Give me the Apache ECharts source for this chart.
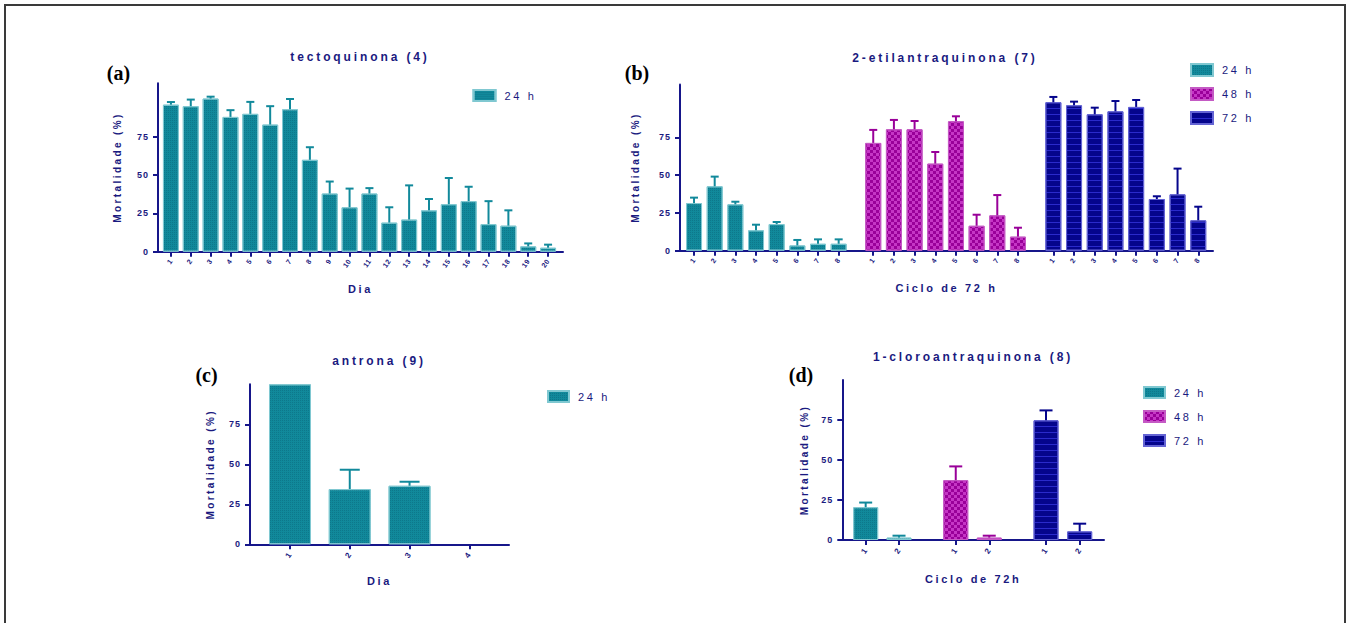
<!DOCTYPE html>
<html><head><meta charset="utf-8">
<script src="https://cdn.jsdelivr.net/npm/echarts@6/dist/echarts.min.js"></script>
<style>html,body{margin:0;padding:0;background:#fff}#c{width:1351px;height:623px}</style>
</head><body><div id="c"></div>
<script>
// ---------------- data ----------------
const yTicks = [0, 25, 50, 75];

// (a) tectoquinona (4)
const tectoDays = ['1','2','3','4','5','6','7','8','9','10','11','12','13','14','15','16','17','18','19','20'];
const tectoMean = [96, 95, 100, 88, 90, 83, 93, 60, 38, 29, 38, 19, 21, 27, 31, 33, 18, 17, 3.5, 2.6];
const tectoErr  = [1.7, 4.3, 1.2, 4.4, 7.8, 12, 6.7, 8.2, 7.8, 12.2, 3.5, 10, 22.3, 7.4, 17.1, 9.4, 15, 10, 1.9, 2];

// (b) 2-etilantraquinona (7)
const etilCycles = ['1','2','3','4','5','6','7','8'];
const etil24 = [31.5, 42.6, 30.7, 13.5, 17.6, 3.5, 4.6, 4.6];
const etil24Err = [3.6, 6.4, 1.7, 3.7, 1.4, 3.6, 2.9, 2.9];
const etil48 = [71.3, 80.3, 80.3, 57.6, 85.6, 16.5, 23.4, 9.3];
const etil48Err = [8.6, 6.2, 5.5, 7.7, 3.3, 7.3, 13.4, 5.9];
const etil72 = [98.2, 96.2, 90.2, 92.2, 95.1, 34.2, 37.3, 20.1];
const etil72Err = [3.5, 2.4, 4.4, 6.8, 4.6, 1.8, 17, 9];

// (c) antrona (9)
const antronaDays = ['1','2','3','4'];
const antronaMean = [100, 34.5, 36.6, 0];
const antronaErr  = [0, 12.1, 2.5, 0];

// (d) 1-cloroantraquinona (8)
const cloroCycles = ['1','2'];
const cloro24 = [20.5, 1.5];
const cloro24Err = [2.9, 1.2];
const cloro48 = [37.4, 1.5];
const cloro48Err = [8.6, 1.2];
const cloro72 = [74.8, 5.4];
const cloro72Err = [6.2, 4.8];

// ---------------- styles ----------------
const NAVY = '#1a1a80';
const AX = '#16168a';
const FONT = 'Liberation Sans';
const S24 = { color: '#11899b', borderColor: '#80c8d1', err: '#11899b',
  decal: { symbol: 'rect', symbolSize: 1, color: 'rgba(0,60,80,0.22)', dashArrayX: [1, 1], dashArrayY: [1, 1] } };
const S48 = { color: '#990099', borderColor: '#c45ac4', err: '#990099',
  decal: { symbol: 'rect', symbolSize: 1, color: '#c536c5', dashArrayX: [[3, 3], [0, 3, 3, 0]], dashArrayY: [3, 0] } };
const S72 = { color: '#05058c', borderColor: '#6464d4', err: '#05058c',
  decal: { symbol: 'rect', symbolSize: 1, color: '#2a2acb', dashArrayX: [1, 0], dashArrayY: [1, 5] } };

const grids = [], xAxes = [], yAxes = [], series = [];

function errRender(color, cap) {
  return function (params, api) {
    const m = api.value(1), e = api.value(2);
    if (!e) return;
    const x = api.value(0);
    const p0 = api.coord([x, m]), p1 = api.coord([x, m + e]);
    return { type: 'group', children: [
      { type: 'line', shape: { x1: p0[0], y1: p0[1], x2: p1[0], y2: p1[1] }, style: { stroke: color, lineWidth: 2 } },
      { type: 'line', shape: { x1: p1[0] - cap / 2, y1: p1[1], x2: p1[0] + cap / 2, y2: p1[1] }, style: { stroke: color, lineWidth: 2 } }
    ] };
  };
}

function addPanel(p) {
  const gi = grids.length;
  grids.push({ left: p.left, top: p.top, width: p.right - p.left, height: p.bottom - p.top });
  xAxes.push({ gridIndex: gi, type: 'value', min: 0, max: 1,
    axisLine: { show: true, lineStyle: { color: AX, width: 2 } }, axisTick: { show: false },
    axisLabel: { show: false }, splitLine: { show: false },
    name: p.xName, nameLocation: 'middle', nameGap: p.xNameGap,
    nameTextStyle: { fontSize: 11, fontWeight: 'bold', color: NAVY, fontFamily: FONT } });
  yAxes.push({ gridIndex: gi, type: 'value', min: 0, max: p.max,
    axisLine: { show: true, lineStyle: { color: AX, width: 2 } },
    axisTick: { show: true, length: 5, customValues: yTicks, lineStyle: { color: AX, width: 2 } },
    axisLabel: { customValues: yTicks, fontSize: 9, fontWeight: 'bold', color: NAVY, margin: 9, fontFamily: FONT },
    splitLine: { show: false },
    name: 'Mortalidade (%)', nameLocation: 'middle', nameRotate: 90, nameGap: p.yNameGap,
    nameTextStyle: { fontSize: 10, fontWeight: 'bold', color: NAVY, fontFamily: FONT } });
  p.groups.forEach(g => {
    const bi = grids.length;
    grids.push({ left: g.left, top: p.top, width: g.right - g.left, height: p.bottom - p.top });
    xAxes.push({ gridIndex: bi, type: 'category', data: g.cats,
      axisLine: { show: false },
      axisTick: { show: true, alignWithLabel: true, length: 5, lineStyle: { color: AX, width: 2 } },
      axisLabel: { interval: 0, rotate: 55, fontSize: p.tickFont, fontWeight: 'bold', color: NAVY, margin: p.tickMargin, fontFamily: FONT },
      splitLine: { show: false } });
    yAxes.push({ gridIndex: bi, type: 'value', min: 0, max: p.max, show: false });
    series.push({ type: 'bar', name: g.name, xAxisIndex: bi, yAxisIndex: bi,
      data: g.mean.map(v => ({ value: v, itemStyle: { borderWidth: v > 0 ? 1 : 0 } })),
      barWidth: p.barWidth, silent: true, z: 2,
      itemStyle: { color: g.st.color, borderColor: g.st.borderColor, borderWidth: 1, decal: g.st.decal } });
    series.push({ type: 'custom', name: 'erro ' + g.name, xAxisIndex: bi, yAxisIndex: bi,
      data: g.mean.map((m, i) => [i, m, g.err[i]]), encode: { x: 0, y: 1 },
      renderItem: errRender(g.st.err, p.cap), silent: true, z: 3 });
  });
}

addPanel({ left: 158, right: 563, top: 83.2, bottom: 251.7, max: 110, xName: 'Dia', xNameGap: 31.5, yNameGap: 36,
  barWidth: 16, cap: 8, tickFont: 7, tickMargin: 8,
  groups: [{ left: 161, right: 558, cats: tectoDays, name: '24 h', mean: tectoMean, err: tectoErr, st: S24 }] });

addPanel({ left: 680, right: 1213, top: 84.4, bottom: 250.7, max: 110, xName: 'Ciclo de 72 h', xNameGap: 31.5, yNameGap: 40,
  barWidth: 16, cap: 8, tickFont: 7, tickMargin: 8,
  groups: [
    { left: 683.7, right: 849, cats: etilCycles, name: '24 h', mean: etil24, err: etil24Err, st: S24 },
    { left: 862.9, right: 1028.3, cats: etilCycles, name: '48 h', mean: etil48, err: etil48Err, st: S48 },
    { left: 1043, right: 1208.6, cats: etilCycles, name: '72 h', mean: etil72, err: etil72Err, st: S72 }] });

addPanel({ left: 250, right: 509, top: 384.3, bottom: 544.3, max: 100, xName: 'Dia', xNameGap: 31.5, yNameGap: 34.5,
  barWidth: 42, cap: 20, tickFont: 8, tickMargin: 9,
  groups: [{ left: 260.1, right: 499.2, cats: antronaDays, name: '24 h', mean: antronaMean, err: antronaErr, st: S24 }] });

addPanel({ left: 842.3, right: 1104, top: 380, bottom: 540, max: 100, xName: 'Ciclo de 72h', xNameGap: 33, yNameGap: 33,
  barWidth: 25, cap: 13, tickFont: 8, tickMargin: 9,
  groups: [
    { left: 849, right: 915.7, cats: cloroCycles, name: '24 h', mean: cloro24, err: cloro24Err, st: S24 },
    { left: 939, right: 1006, cats: cloroCycles, name: '48 h', mean: cloro48, err: cloro48Err, st: S48 },
    { left: 1029.2, right: 1096.5, cats: cloroCycles, name: '72 h', mean: cloro72, err: cloro72Err, st: S72 }] });

function legend(names, left, top, w, h, gap) {
  return { data: names, left: left, top: top, padding: 0, orient: 'vertical', icon: 'rect', itemWidth: w, itemHeight: h,
    itemGap: gap, selectedMode: false,
    textStyle: { fontSize: 11, color: NAVY, fontFamily: FONT, padding: [0, 0, 0, 4] } };
}

function label(text, x, y, font, fill) {
  return { type: 'text', x: x, y: y, silent: true,
    style: { text: text, font: font, fill: fill, align: 'center', verticalAlign: 'middle', textAlign: 'center', textVerticalAlign: 'middle' } };
}
const TF = 'bold 12px "Liberation Sans"';
const PF = 'bold 20px "Liberation Serif"';

const option = {
  animation: false,
  textStyle: { fontFamily: FONT },
  grid: grids, xAxis: xAxes, yAxis: yAxes, series: series,
  legend: [
    legend(['24 h'], 472.5, 89, 22, 11, 10),
    legend(['24 h', '48 h', '72 h'], 1190, 63, 22, 12, 10),
    legend(['24 h'], 547, 390, 21, 11, 10),
    legend(['24 h', '48 h', '72 h'], 1143, 386, 21, 11, 11)
  ],
  graphic: [
    { type: 'rect', silent: true, shape: { x: 5, y: 5, width: 1340, height: 650 }, style: { fill: 'none', stroke: '#3a3a3a', lineWidth: 2 } },
    label('tectoquinona (4)', 360, 57, TF, NAVY),
    label('2-etilantraquinona (7)', 945, 57.5, TF, NAVY),
    label('antrona (9)', 379, 361, TF, NAVY),
    label('1-cloroantraquinona (8)', 973, 357, TF, NAVY),
    label('(a)', 118.5, 73, PF, '#000'),
    label('(b)', 637, 73, PF, '#000'),
    label('(c)', 206.5, 375, PF, '#000'),
    label('(d)', 801, 375, PF, '#000')
  ]
};

const dom = document.getElementById('c');
const chart = echarts.init(dom, null, { renderer: 'svg' });
function spacing() {
  dom.querySelectorAll('text').forEach(t => {
    const cs = getComputedStyle(t);
    const fam = cs.fontFamily || '';
    if (/serif/i.test(fam) && !/sans/i.test(fam)) return;
    const fs = parseFloat(cs.fontSize) || 12;
    const ls = fs >= 10 ? fs * 0.24 : (fs >= 9 ? 1 : 0.5);
    t.style.letterSpacing = ls + 'px';
  });
}
chart.on('finished', spacing);
chart.setOption(option);
spacing();
</script></body></html>
